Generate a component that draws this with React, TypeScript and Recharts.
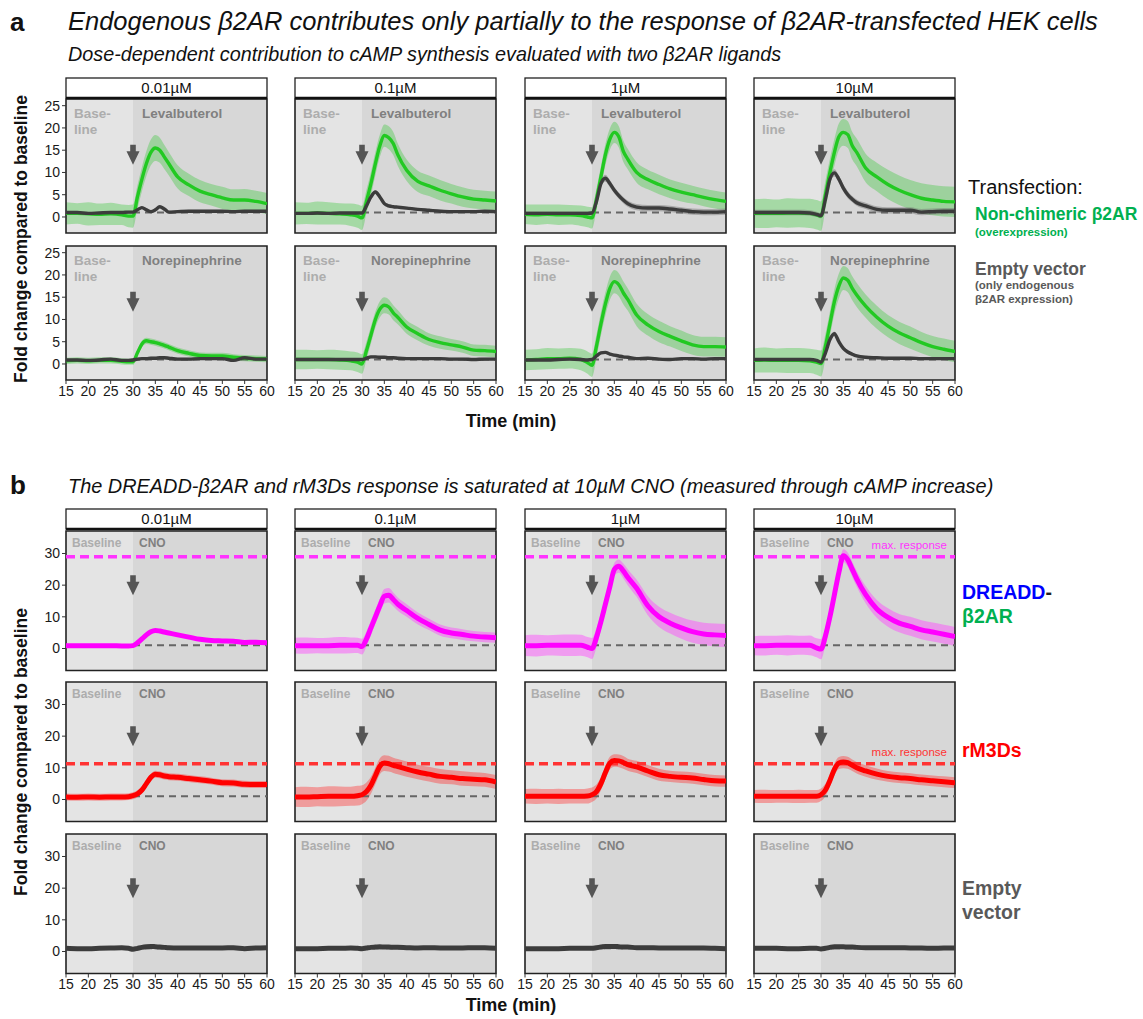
import React from 'react';
import {
  ComposedChart, Area, Line, XAxis, YAxis,
  ReferenceArea, ReferenceLine, ReferenceDot,
} from 'recharts';

// time grid (min)
const TIME = [15, 17.5, 20, 22.5, 25, 27.5, 29, 30, 31, 32, 33, 34, 35, 36, 37, 38, 40, 42.5, 45, 47.5, 50, 52.5, 55, 57.5, 60];
const X_TICKS = [15, 20, 25, 30, 35, 40, 45, 50, 55, 60];
const Y_TICKS_A = [0, 5, 10, 15, 20, 25];
const Y_TICKS_B = [0, 10, 20, 30];
const DOSES = ['0.01µM', '0.1µM', '1µM', '10µM'];
const DRUGS_A = ['Levalbuterol', 'Norepinephrine'];
const BASELINE_FOLD = 1;
const MAX_DREADD = 29;
const MAX_RM3DS = 11.3;
const ARROW_A = 14;
const ARROW_B = 20;

// panel a, Levalbuterol: G = non-chimeric b2AR, D = empty vector
const levG001 = [0.8, 0.8, 0.7, 0.6, 0.7, 0.5, 0.2, 0.2, 4.5, 8.5, 12, 14.5, 15.5, 15, 13.5, 12, 9, 7.2, 5.8, 5, 4.3, 3.8, 3.8, 3.5, 3.0];
const levG001Sd = [2.5, 2.3, 2.6, 2.4, 2.5, 2.3, 2.5, 2.6, 2.6, 2.7, 2.8, 2.9, 2.9, 2.8, 2.7, 2.6, 2.6, 2.5, 2.5, 2.4, 2.5, 2.4, 2.5, 2.4, 2.4];
const levD001 = [1, 1, 0.8, 0.9, 1, 1, 1.1, 1.1, 1.6, 2.1, 1.6, 1.2, 1.6, 2.3, 1.8, 1.1, 1.2, 1.3, 1.3, 1.3, 1.3, 1.2, 1.3, 1.3, 1.3];
const levD001Sd = [0.3, 0.3, 0.3, 0.3, 0.3, 0.3, 0.3, 0.3, 0.3, 0.3, 0.3, 0.3, 0.3, 0.3, 0.3, 0.3, 0.3, 0.3, 0.3, 0.3, 0.3, 0.3, 0.3, 0.3, 0.3];

const levG01 = [0.8, 0.8, 0.9, 0.8, 0.7, 0.5, 0.2, -0.2, 3.5, 7.5, 12, 16, 18.3, 17.8, 16.5, 14, 10.5, 8, 7, 6, 5.2, 4.5, 4, 3.8, 3.6];
const levG01Sd = [2.5, 2.4, 2.6, 2.5, 2.4, 2.5, 2.6, 2.7, 2.6, 2.6, 2.6, 2.5, 2.5, 2.6, 2.6, 2.5, 2.4, 2.4, 2.3, 2.3, 2.2, 2.2, 2.1, 2.1, 2.1];
const levD01 = [0.8, 0.8, 0.9, 0.8, 0.9, 0.9, 0.9, 0.9, 2.5, 4.5, 5.6, 4.5, 3, 2.5, 2.3, 2.2, 2, 1.7, 1.5, 1.3, 1.2, 1.2, 1.2, 1.3, 1.2];
const levD01Sd = [0.3, 0.3, 0.3, 0.3, 0.3, 0.3, 0.3, 0.3, 0.4, 0.4, 0.4, 0.4, 0.4, 0.4, 0.3, 0.3, 0.3, 0.3, 0.3, 0.3, 0.3, 0.3, 0.3, 0.3, 0.3];

const levG1 = [0.6, 0.5, 0.6, 0.5, 0.5, 0.3, 0, -0.2, 4, 9, 14, 17.5, 19, 18, 14.8, 13, 10, 8.4, 7.3, 6.3, 5.6, 5, 4.4, 3.9, 3.5];
const levG1Sd = [2.2, 2.3, 2.2, 2.3, 2.2, 2.3, 2.3, 2.4, 2.4, 2.4, 2.4, 2.4, 2.4, 2.4, 2.4, 2.3, 2.3, 2.2, 2.2, 2.1, 2.1, 2.0, 2.0, 2.0, 2.0];
const levD1 = [0.8, 0.8, 0.8, 0.8, 0.8, 0.8, 0.8, 0.9, 3.5, 7.5, 8.7, 7.5, 6, 4.8, 3.8, 3, 2.2, 2, 2, 1.8, 1.5, 1.2, 1.1, 1.1, 1.2];
const levD1Sd = [0.5, 0.5, 0.5, 0.5, 0.5, 0.5, 0.5, 0.5, 0.6, 0.7, 0.8, 0.8, 0.7, 0.7, 0.7, 0.7, 0.7, 0.7, 0.7, 0.7, 0.7, 0.7, 0.7, 0.7, 0.7];

const levG10 = [0.8, 0.8, 0.8, 0.9, 0.9, 0.8, 0.5, 0.2, 5, 10, 14.5, 18, 19, 18.5, 16, 14.5, 11, 9, 7.3, 6, 5, 4.2, 3.8, 3.5, 3.4];
const levG10Sd = [3.2, 3.3, 3.1, 3.3, 3.2, 3.3, 3.3, 3.3, 3.2, 3.1, 3.0, 3.0, 3.0, 3.0, 3.1, 3.1, 3.2, 3.2, 3.3, 3.3, 3.3, 3.4, 3.4, 3.4, 3.4];
const levD10 = [1, 1, 1, 1, 1, 0.9, 0.6, 0.3, 4, 8.5, 9.9, 8.5, 6.5, 5, 4, 3.2, 2.5, 1.7, 1.5, 1.5, 1.5, 1.1, 1.2, 1.3, 1.3];
const levD10Sd = [0.6, 0.6, 0.6, 0.6, 0.6, 0.6, 0.6, 0.6, 0.7, 0.8, 0.8, 0.8, 0.8, 0.8, 0.7, 0.7, 0.7, 0.7, 0.7, 0.7, 0.7, 0.7, 0.7, 0.7, 0.7];

// panel a, Norepinephrine
const norG001 = [0.7, 0.8, 0.7, 0.8, 0.8, 0.6, 0.5, 0.5, 2.5, 4.5, 5.2, 5, 4.8, 4.5, 4.2, 3.8, 3, 2.4, 1.9, 1.8, 1.8, 1.5, 1.3, 1.2, 1.1];
const norG001Sd = [0.7, 0.7, 0.7, 0.7, 0.7, 0.7, 0.7, 0.7, 0.7, 0.7, 0.7, 0.7, 0.7, 0.7, 0.7, 0.7, 0.7, 0.7, 0.7, 0.7, 0.7, 0.7, 0.7, 0.7, 0.7];
const norD001 = [0.9, 0.9, 0.8, 0.9, 1.1, 0.8, 0.8, 0.9, 1.1, 1.2, 1.2, 1.3, 1.3, 1.4, 1.4, 1.3, 1.1, 1.1, 1.2, 1.2, 1.2, 0.8, 1.4, 1.1, 1.1];
const norD001Sd = [0.3, 0.3, 0.3, 0.3, 0.3, 0.3, 0.3, 0.3, 0.3, 0.3, 0.3, 0.3, 0.3, 0.3, 0.3, 0.3, 0.3, 0.3, 0.3, 0.3, 0.3, 0.3, 0.3, 0.3, 0.3];

const norG01 = [1, 1, 1, 1, 0.9, 0.7, 0.4, 0, 3, 6.5, 10, 12.3, 13.2, 12.8, 11.5, 10.5, 8.3, 6.8, 5.5, 4.8, 4.3, 3.8, 3.1, 3, 2.8];
const norG01Sd = [2.2, 2.2, 2.1, 2.2, 2.2, 2.1, 2.2, 2.2, 2, 1.9, 1.8, 1.8, 1.8, 1.7, 1.7, 1.6, 1.5, 1.5, 1.4, 1.4, 1.3, 1.3, 1.3, 1.3, 1.3];
const norD01 = [1, 1, 1, 1, 1, 1, 1, 1, 1.3, 1.6, 1.6, 1.5, 1.5, 1.4, 1.4, 1.3, 1.2, 1.2, 1.2, 1.2, 1.1, 1.1, 1, 1.1, 1.1];
const norD01Sd = [0.3, 0.3, 0.3, 0.3, 0.3, 0.3, 0.3, 0.3, 0.3, 0.3, 0.3, 0.3, 0.3, 0.3, 0.3, 0.3, 0.3, 0.3, 0.3, 0.3, 0.3, 0.3, 0.3, 0.3, 0.3];

const norG1 = [0.9, 1, 1.2, 1.2, 1.3, 1, 0.3, -0.3, 4, 9, 13.5, 17, 18.5, 17.8, 16, 14.5, 11, 8.8, 7.3, 6.2, 5.2, 4.3, 3.9, 3.9, 3.8];
const norG1Sd = [2.3, 2.3, 2.4, 2.3, 2.3, 2.4, 2.5, 2.6, 2.6, 2.6, 2.6, 2.6, 2.6, 2.6, 2.6, 2.5, 2.5, 2.4, 2.4, 2.3, 2.3, 2.2, 2.2, 2.2, 2.2];
const norD1 = [0.9, 0.9, 0.9, 1, 1.1, 1, 0.9, 1, 1.8, 2.5, 2.6, 2.2, 2, 1.8, 1.6, 1.5, 1.2, 1.3, 1.1, 1, 1.2, 1.2, 1.1, 1.2, 1.2];
const norD1Sd = [0.3, 0.3, 0.3, 0.3, 0.3, 0.3, 0.3, 0.3, 0.3, 0.3, 0.3, 0.3, 0.3, 0.3, 0.3, 0.3, 0.3, 0.3, 0.3, 0.3, 0.3, 0.3, 0.3, 0.3, 0.3];

const norG10 = [0.8, 0.9, 0.8, 0.8, 0.8, 0.7, 0.4, 0.1, 4, 9, 14, 17.5, 19.3, 18.8, 17, 15.5, 13, 10.5, 8.5, 7, 5.9, 4.8, 3.9, 3.3, 2.8];
const norG10Sd = [2.7, 2.8, 2.7, 2.8, 2.8, 2.7, 2.8, 2.9, 2.8, 2.8, 2.8, 2.8, 2.7, 2.7, 2.7, 2.7, 2.6, 2.6, 2.5, 2.5, 2.5, 2.4, 2.4, 2.4, 2.4];
const norD10 = [1, 1, 1, 1, 1, 1, 0.8, 0.4, 2.5, 5.5, 6.8, 5, 3.5, 2.7, 2.2, 1.8, 1.5, 1.4, 1.3, 1.3, 1.3, 1.2, 1.2, 1.2, 1.2];
const norD10Sd = [0.3, 0.3, 0.3, 0.3, 0.3, 0.3, 0.3, 0.3, 0.4, 0.5, 0.5, 0.5, 0.4, 0.4, 0.3, 0.3, 0.3, 0.3, 0.3, 0.3, 0.3, 0.3, 0.3, 0.3, 0.3];

// panel b, DREADD-b2AR (magenta)
const dreM001 = [0.9, 0.9, 0.9, 0.9, 0.9, 0.8, 0.8, 0.9, 1.8, 3, 4.3, 5.3, 5.7, 5.5, 5.2, 4.9, 4.3, 3.6, 2.9, 2.5, 2.4, 2.3, 1.9, 2, 1.8];
const dreM001Sd = [0.4, 0.4, 0.4, 0.4, 0.4, 0.4, 0.4, 0.4, 0.4, 0.4, 0.4, 0.4, 0.4, 0.4, 0.4, 0.4, 0.4, 0.4, 0.4, 0.4, 0.4, 0.4, 0.4, 0.4, 0.4];
const dreM01 = [0.9, 0.9, 0.9, 0.9, 1, 1, 1, 0.6, 3, 6.5, 10, 13.5, 16.5, 16.8, 15.5, 14, 12, 9.5, 7.6, 5.8, 4.9, 4.4, 3.9, 3.6, 3.4];
const dreM01Sd = [2.5, 2.6, 2.4, 2.5, 2.6, 2.5, 2.4, 2.5, 2.4, 2.3, 2.3, 2.3, 2.3, 2.3, 2.2, 2.1, 2.0, 1.9, 1.8, 1.8, 1.7, 1.7, 1.6, 1.6, 1.6];
const dreM1 = [0.9, 0.9, 1, 1, 1, 1, 0.4, 0, 3.5, 8.5, 14, 19.5, 25, 26, 24.5, 22.5, 19, 13.5, 10, 8, 6.5, 5.3, 4.6, 4.3, 4.1];
const dreM1Sd = [3.3, 3.4, 3.2, 3.3, 3.4, 3.3, 3.2, 3.3, 3.0, 2.6, 2.3, 2.1, 2.0, 2.1, 2.3, 2.5, 2.7, 3.0, 3.2, 3.3, 3.4, 3.5, 3.5, 3.6, 3.6];
const dreM10 = [0.9, 0.9, 1, 1, 1, 1, 0.2, -0.2, 4, 10, 17, 24, 29.3, 28, 25, 22, 17, 12.5, 9.8, 8, 7, 5.9, 5.2, 4.5, 3.8];
const dreM10Sd = [3.0, 3.1, 3.0, 3.2, 3.0, 3.1, 3.0, 3.2, 2.8, 2.5, 2.2, 2.1, 2.0, 2.2, 2.4, 2.5, 2.7, 2.8, 2.9, 2.9, 3.0, 3.0, 3.0, 3.0, 3.0];

// panel b, rM3Ds (red)
const rmR001 = [0.8, 0.7, 0.8, 0.7, 0.8, 0.8, 0.9, 1.2, 1.8, 3, 5, 7, 8, 7.8, 7.4, 7.2, 7, 6.6, 6.2, 5.8, 5.3, 5.2, 4.8, 4.7, 4.7];
const rmR001Sd = [1.1, 1.1, 1.1, 1.1, 1.1, 1.1, 1.1, 1.1, 1.1, 1.1, 1.1, 1.1, 1.1, 1.1, 1.1, 1.1, 1.1, 1.1, 1.1, 1.1, 1.1, 1.1, 1.1, 1.1, 1.1];
const rmR01 = [0.8, 0.8, 0.9, 1, 1, 1, 1.2, 1.5, 2.5, 4.5, 7.5, 10.5, 11.5, 11.3, 10.8, 10.4, 9.6, 8.7, 8, 7.3, 7, 6.6, 6.4, 6.2, 5.5];
const rmR01Sd = [3.1, 3.2, 3.0, 3.2, 3.1, 3.0, 3.1, 3.0, 2.9, 2.7, 2.6, 2.5, 2.5, 2.5, 2.4, 2.4, 2.4, 2.3, 2.3, 2.3, 2.2, 2.3, 2.2, 2.2, 2.2];
const rmR1 = [1, 1, 1, 1, 1, 1, 1.1, 1.5, 2.5, 5, 8.5, 11.5, 12.3, 12.2, 11.7, 11, 10.3, 9, 7.8, 7.3, 7, 6.8, 6.3, 5.9, 5.8];
const rmR1Sd = [2.3, 2.4, 2.3, 2.4, 2.3, 2.3, 2.4, 2.3, 2.2, 2.1, 2.1, 2.0, 2.0, 2.0, 2.0, 1.9, 1.9, 1.9, 1.9, 1.8, 1.8, 1.8, 1.8, 1.8, 1.8];
const rmR10 = [1, 1, 1, 1, 1, 1, 1, 1.5, 3, 6, 9.5, 11.5, 11.8, 11.6, 10.8, 10, 9, 8, 7.3, 6.9, 6.6, 6.2, 5.9, 5.6, 5.3];
const rmR10Sd = [2.0, 2.1, 2.0, 2.0, 2.1, 2.0, 2.0, 2.0, 2.0, 1.9, 1.9, 1.9, 1.9, 1.9, 1.8, 1.8, 1.8, 1.8, 1.7, 1.7, 1.7, 1.7, 1.7, 1.7, 1.7];

// panel b, empty vector
const evD001 = [1, 0.9, 0.9, 1, 1.1, 1.2, 1, 0.7, 1, 1.3, 1.5, 1.6, 1.5, 1.4, 1.3, 1.2, 1.1, 1.1, 1.1, 1.1, 1.1, 1.2, 0.9, 1.1, 1.2];
const evD01 = [0.9, 0.9, 0.9, 1, 1, 1.1, 1, 0.9, 1.1, 1.3, 1.4, 1.5, 1.4, 1.4, 1.3, 1.3, 1.2, 1.1, 1.2, 1.1, 1.1, 1.1, 1.2, 1.2, 1];
const evD1 = [0.9, 0.9, 0.9, 0.9, 1, 1, 1, 1, 1.2, 1.4, 1.6, 1.6, 1.6, 1.5, 1.4, 1.4, 1.2, 1.2, 1.1, 1.1, 1.1, 1.1, 1.1, 1, 0.9];
const evD10 = [1, 1, 1, 0.9, 0.9, 1, 1, 0.8, 1, 1.3, 1.5, 1.5, 1.5, 1.4, 1.4, 1.3, 1.2, 1.2, 1.2, 1.2, 1.1, 1.1, 1, 1.1, 1.1];
const evSd = [0.3, 0.3, 0.3, 0.3, 0.3, 0.3, 0.3, 0.3, 0.3, 0.3, 0.3, 0.3, 0.3, 0.3, 0.3, 0.3, 0.3, 0.3, 0.3, 0.3, 0.3, 0.3, 0.3, 0.3, 0.3];

const FONT = '"Liberation Sans", Arial, Helvetica, sans-serif';
const GREEN = '#22C922';
const DARK = '#3C3C3C';
const MAGENTA = '#FF00FF';
const RED = '#FF0000';

const COL_X = [66, 295, 525, 754];
const PW = 201;
const YW = 30;
const XH = 24;
const A_DOMAIN: [number, number] = [-3.6, 26.5];
const B_DOMAIN: [number, number] = [-6.95, 37.1];

type Series = { mean: number[]; sd: number[]; color: string; band: string; bandOpacity: number; width: number };

const green = (mean: number[], sd: number[]): Series => ({ mean, sd, color: GREEN, band: '#45C845', bandOpacity: 0.4, width: 3.4 });
const dark = (mean: number[], sd: number[], width = 3.4): Series => ({ mean, sd, color: DARK, band: '#707070', bandOpacity: 0.45, width });
const magenta = (mean: number[], sd: number[]): Series => ({ mean, sd, color: MAGENTA, band: '#FF44FF', bandOpacity: 0.45, width: 5 });
const red = (mean: number[], sd: number[]): Series => ({ mean, sd, color: RED, band: '#FF3030', bandOpacity: 0.4, width: 5 });

const ROWS_A: Series[][][] = [
  [
    [green(levG001, levG001Sd), dark(levD001, levD001Sd)],
    [green(levG01, levG01Sd), dark(levD01, levD01Sd)],
    [green(levG1, levG1Sd), dark(levD1, levD1Sd)],
    [green(levG10, levG10Sd), dark(levD10, levD10Sd)],
  ],
  [
    [green(norG001, norG001Sd), dark(norD001, norD001Sd)],
    [green(norG01, norG01Sd), dark(norD01, norD01Sd)],
    [green(norG1, norG1Sd), dark(norD1, norD1Sd)],
    [green(norG10, norG10Sd), dark(norD10, norD10Sd)],
  ],
];

const ROWS_B: Series[][][] = [
  [[magenta(dreM001, dreM001Sd)], [magenta(dreM01, dreM01Sd)], [magenta(dreM1, dreM1Sd)], [magenta(dreM10, dreM10Sd)]],
  [[red(rmR001, rmR001Sd)], [red(rmR01, rmR01Sd)], [red(rmR1, rmR1Sd)], [red(rmR10, rmR10Sd)]],
  [[dark(evD001, evSd, 5)], [dark(evD01, evSd, 5)], [dark(evD1, evSd, 5)], [dark(evD10, evSd, 5)]],
];

const Arrow = (p: any) => {
  const { cx, cy } = p;
  if (cx == null || cy == null) return null;
  return (
    <path
      d={`M${cx - 2.8},${cy - 10} L${cx + 2.8},${cy - 10} L${cx + 2.8},${cy - 3.3} L${cx + 6.5},${cy - 3.3} L${cx},${cy + 10} L${cx - 6.5},${cy - 3.3} L${cx - 2.8},${cy - 3.3} Z`}
      fill="#555555"
    />
  );
};

interface PanelProps {
  col: number;
  top: number;
  plotH: number;
  showX: boolean;
  domain: [number, number];
  yTicks: number[];
  series: Series[];
  arrowY: number;
  kind: 'a' | 'b';
  drug: string;
  maxLine?: { y: number; color: string; label: boolean };
}

function Panel({ col, top, plotH, showX, domain, yTicks, series, arrowY, kind, drug, maxLine }: PanelProps) {
  const first = col === 0;
  const ML = 10, MR = 10, MT = 6, MB = 2;
  const width = ML + (first ? YW : 0) + PW + MR;
  const height = MT + plotH + (showX ? XH : MB);
  const left = COL_X[col] - ML - (first ? YW : 0);

  const rows = TIME.map((t, i) => {
    const r: Record<string, unknown> = { t };
    series.forEach((s, k) => {
      r[`m${k}`] = s.mean[i];
      r[`r${k}`] = [s.mean[i] - s.sd[i], s.mean[i] + s.sd[i]];
    });
    return r;
  });

  const tickStyle = { fontSize: 14, fill: '#1a1a1a', fontFamily: FONT };

  const baseLabel = (p: any) => {
    const vb = p.viewBox;
    if (kind === 'a') {
      return (
        <g fontFamily={FONT} fontWeight="bold" fontSize={13.5} fill="#ADADAD">
          <text x={vb.x + 8} y={vb.y + 19}>Base-</text>
          <text x={vb.x + 8} y={vb.y + 35}>line</text>
        </g>
      );
    }
    return (
      <text x={vb.x + 6} y={vb.y + 16} fontFamily={FONT} fontWeight="bold" fontSize={12} fill="#ADADAD">Baseline</text>
    );
  };
  const drugLabel = (p: any) => {
    const vb = p.viewBox;
    return (
      <text
        x={vb.x + (kind === 'a' ? 9 : 6)}
        y={vb.y + (kind === 'a' ? 19 : 16)}
        fontFamily={FONT}
        fontWeight="bold"
        fontSize={kind === 'a' ? 13.5 : 12}
        fill="#808080"
      >
        {drug}
      </text>
    );
  };

  return (
    <div style={{ position: 'absolute', left, top: top - MT }}>
      <ComposedChart width={width} height={height} data={rows}
        margin={{ top: MT, right: MR, bottom: showX ? 0 : MB, left: ML }}>
        <XAxis dataKey="t" type="number" domain={[15, 60]} ticks={X_TICKS} interval={0}
          hide={!showX} height={XH} tickSize={4} axisLine={false}
          tickLine={{ stroke: '#333' }} tick={tickStyle} allowDataOverflow />
        <YAxis type="number" domain={domain} ticks={yTicks} interval={0}
          hide={!first} width={YW} tickSize={4} axisLine={false}
          tickLine={{ stroke: '#333' }} tick={tickStyle} allowDataOverflow />
        <ReferenceArea x1={15} x2={30} y1={domain[0]} y2={domain[1]}
          fill="#E4E4E4" fillOpacity={1} stroke="none" label={baseLabel} />
        <ReferenceArea x1={30} x2={60} y1={domain[0]} y2={domain[1]}
          fill="#D7D7D7" fillOpacity={1} stroke="none" label={drugLabel} />
        {maxLine && (
          <ReferenceLine y={maxLine.y} stroke={maxLine.color} strokeWidth={3.5} strokeDasharray="9 5"
            label={maxLine.label ? {
              value: 'max. response', position: 'insideBottomRight', offset: 8,
              fill: maxLine.color, fontSize: 11.5, fontFamily: FONT,
            } : undefined} />
        )}
        <ReferenceLine segment={[{ x: 30, y: BASELINE_FOLD }, { x: 60, y: BASELINE_FOLD }]}
          stroke="#666" strokeWidth={2} strokeDasharray="7 5" />
        <ReferenceDot x={30} y={arrowY} r={0} shape={Arrow} />
        {series.map((s, k) => (
          <Area key={`a${k}`} type="monotone" dataKey={`r${k}`} stroke="none"
            fill={s.band} fillOpacity={s.bandOpacity} isAnimationActive={false}
            dot={false} activeDot={false} />
        ))}
        {series.map((s, k) => (
          <Line key={`l${k}`} type="monotone" dataKey={`m${k}`} stroke={s.color}
            strokeWidth={s.width} dot={false} activeDot={false} isAnimationActive={false} />
        ))}
        <ReferenceArea x1={15} x2={60} y1={domain[0]} y2={domain[1]}
          fill="none" stroke="#222" strokeWidth={1.6} />
      </ComposedChart>
    </div>
  );
}

function Strip({ x, y, label }: { x: number; y: number; label: string }) {
  return (
    <g>
      <rect x={x} y={y} width={PW} height={20} fill="#fff" stroke="#222" strokeWidth={1.3} />
      <line x1={x} x2={x + PW} y1={y + 20} y2={y + 20} stroke="#111" strokeWidth={2.6} />
      <text x={x + PW / 2} y={y + 15} textAnchor="middle" fontSize={15} fill="#111">{label}</text>
    </g>
  );
}

export default function App() {
  const aTops = [99, 246];
  const bTops = [530.5, 682.3, 834];
  return (
    <div style={{ position: 'absolute', left: 0, top: 0, width: 1143, height: 1019, background: '#fff', fontFamily: FONT }}>
      {ROWS_A.map((row, r) => row.map((series, c) => (
        <Panel key={`a${r}${c}`} col={c} top={aTops[r]} plotH={134} showX={r === 1}
          domain={A_DOMAIN} yTicks={Y_TICKS_A} series={series} arrowY={ARROW_A}
          kind="a" drug={DRUGS_A[r]} />
      )))}
      {ROWS_B.map((row, r) => row.map((series, c) => (
        <Panel key={`b${r}${c}`} col={c} top={bTops[r]} plotH={139.5} showX={r === 2}
          domain={B_DOMAIN} yTicks={Y_TICKS_B} series={series} arrowY={ARROW_B}
          kind="b" drug="CNO"
          maxLine={r === 0 ? { y: MAX_DREADD, color: '#FF33FF', label: c === 3 }
            : r === 1 ? { y: MAX_RM3DS, color: '#FF3333', label: c === 3 } : undefined} />
      )))}
      <svg width={1143} height={1019} style={{ position: 'absolute', left: 0, top: 0, pointerEvents: 'none' }}
        fontFamily={FONT}>
        <text x={10} y={31} fontSize={26} fontWeight="bold" fill="#111">a</text>
        <text x={68} y={30} fontSize={25.5} fontStyle="italic" fill="#111">
          Endogenous β2AR contributes only partially to the response of β2AR-transfected HEK cells
        </text>
        <text x={68} y={61} fontSize={19.8} fontStyle="italic" fill="#111">
          Dose-dependent contribution to cAMP synthesis evaluated with two β2AR ligands
        </text>
        <text x={10} y={494} fontSize={26} fontWeight="bold" fill="#111">b</text>
        <text x={68} y={493} fontSize={19.9} fontStyle="italic" fill="#111">
          The DREADD-β2AR and rM3Ds response is saturated at 10µM CNO (measured through cAMP increase)
        </text>

        {DOSES.map((d, i) => <Strip key={`sa${i}`} x={COL_X[i]} y={78} label={d} />)}
        {DOSES.map((d, i) => <Strip key={`sb${i}`} x={COL_X[i]} y={509} label={d} />)}

        <text transform="translate(27,239) rotate(-90)" textAnchor="middle" fontSize={17.5} fontWeight="bold" fill="#111">
          Fold change compared to baseline
        </text>
        <text transform="translate(27,752) rotate(-90)" textAnchor="middle" fontSize={17.5} fontWeight="bold" fill="#111">
          Fold change compared to baseline
        </text>
        <text x={511} y={427} textAnchor="middle" fontSize={18} fontWeight="bold" fill="#111">Time (min)</text>
        <text x={511} y={1011} textAnchor="middle" fontSize={18} fontWeight="bold" fill="#111">Time (min)</text>

        <text x={968} y={194} fontSize={20} fill="#111">Transfection:</text>
        <text x={975} y={220} fontSize={17.5} fontWeight="bold" fill="#00B050">Non-chimeric β2AR</text>
        <text x={975} y={236} fontSize={11.5} fontWeight="bold" fill="#00B050">(overexpression)</text>
        <text x={975} y={275} fontSize={17.5} fontWeight="bold" fill="#595959">Empty vector</text>
        <text x={975} y={289} fontSize={11.5} fontWeight="bold" fill="#595959">(only endogenous</text>
        <text x={975} y={303} fontSize={11.5} fontWeight="bold" fill="#595959">β2AR expression)</text>

        <text x={962} y={599} fontSize={19.5} fontWeight="bold">
          <tspan fill="#0000FF">DREADD</tspan><tspan fill="#222">-</tspan>
        </text>
        <text x={962} y={623} fontSize={19.5} fontWeight="bold" fill="#00B050">β2AR</text>
        <text x={962} y={757} fontSize={19.5} fontWeight="bold" fill="#FF0000">rM3Ds</text>
        <text x={962} y={895} fontSize={19.5} fontWeight="bold" fill="#595959">Empty</text>
        <text x={962} y={919} fontSize={19.5} fontWeight="bold" fill="#595959">vector</text>
      </svg>
    </div>
  );
}
